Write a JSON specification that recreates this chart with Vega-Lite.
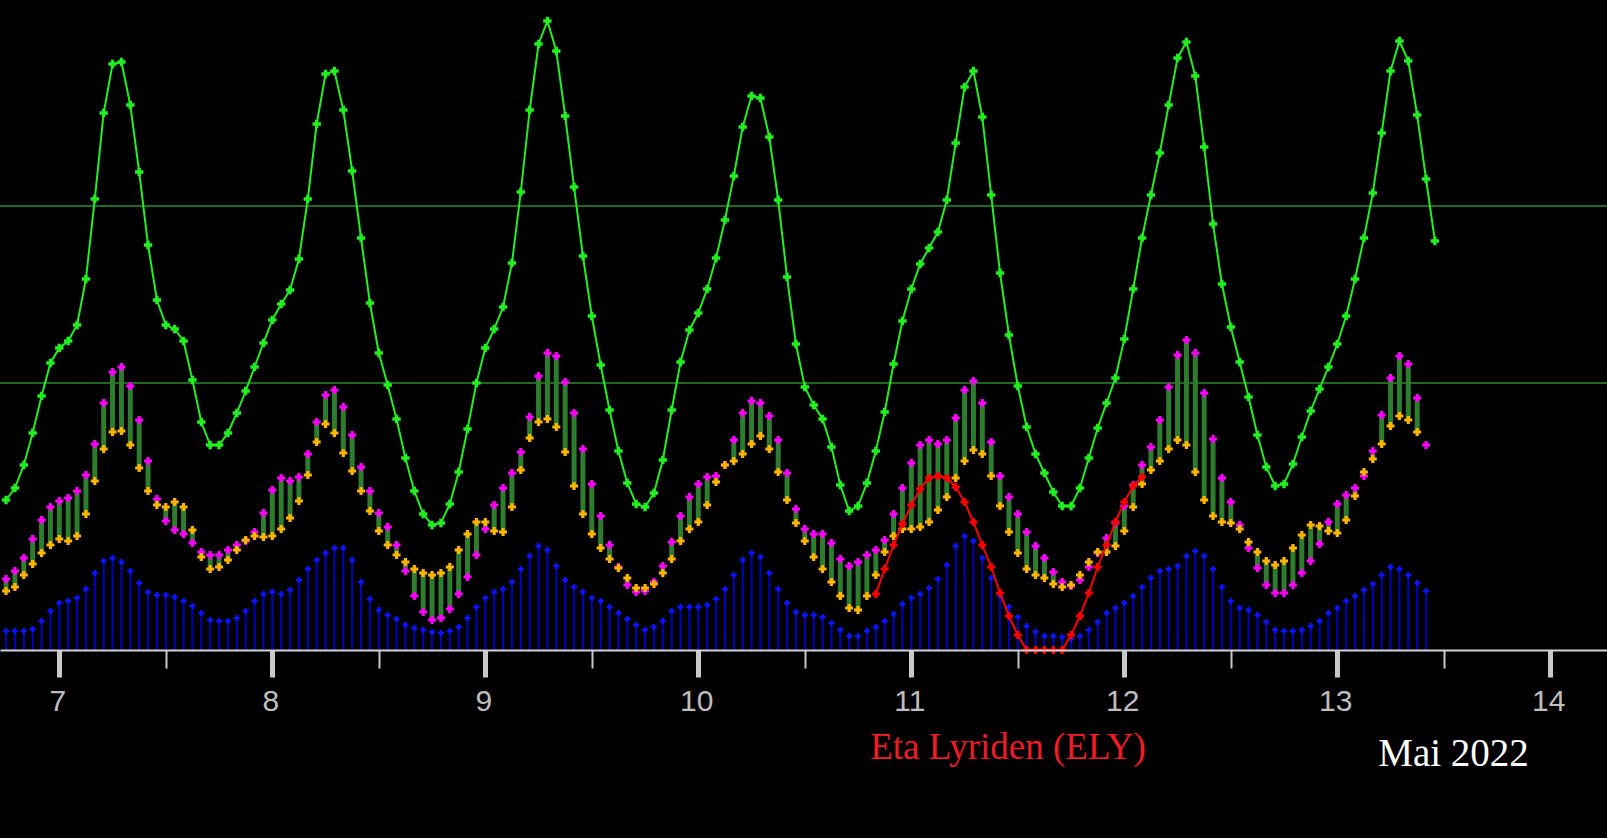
{
  "$schema": "https://vega.github.io/schema/vega-lite/v6.json",
  "width": 1607,
  "height": 650,
  "autosize": {"type": "none"},
  "padding": {"left": 0, "top": 0, "right": 0, "bottom": 188},
  "background": "#000000",
  "config": {"view": {"stroke": null}},
  "data": {
    "values": [
      {"h": -6, "g": 150, "m": 71, "o": 59, "b": 19},
      {"h": -5, "g": 162, "m": 79, "o": 63, "b": 19},
      {"h": -4, "g": 185, "m": 92, "o": 75, "b": 19},
      {"h": -3, "g": 217, "m": 111, "o": 86, "b": 21},
      {"h": -2, "g": 254, "m": 130, "o": 97, "b": 29},
      {"h": -1, "g": 287, "m": 143, "o": 105, "b": 39},
      {"h": 0, "g": 302, "m": 149, "o": 111, "b": 47},
      {"h": 1, "g": 309, "m": 152, "o": 109, "b": 49},
      {"h": 2, "g": 325, "m": 159, "o": 114, "b": 52},
      {"h": 3, "g": 371, "m": 175, "o": 136, "b": 61},
      {"h": 4, "g": 451, "m": 206, "o": 169, "b": 77},
      {"h": 5, "g": 537, "m": 247, "o": 201, "b": 89},
      {"h": 6, "g": 586, "m": 278, "o": 218, "b": 92},
      {"h": 7, "g": 588, "m": 283, "o": 219, "b": 88},
      {"h": 8, "g": 545, "m": 264, "o": 205, "b": 79},
      {"h": 9, "g": 478, "m": 230, "o": 182, "b": 67},
      {"h": 10, "g": 405, "m": 189, "o": 159, "b": 58},
      {"h": 11, "g": 350, "m": 151, "o": 145, "b": 55},
      {"h": 12, "g": 325, "m": 129, "o": 143, "b": 55},
      {"h": 13, "g": 321, "m": 120, "o": 148, "b": 53},
      {"h": 14, "g": 309, "m": 116, "o": 143, "b": 49},
      {"h": 15, "g": 270, "m": 107, "o": 120, "b": 44},
      {"h": 16, "g": 228, "m": 98, "o": 93, "b": 37},
      {"h": 17, "g": 205, "m": 95, "o": 81, "b": 30},
      {"h": 18, "g": 205, "m": 95, "o": 83, "b": 29},
      {"h": 19, "g": 217, "m": 100, "o": 90, "b": 29},
      {"h": 20, "g": 237, "m": 105, "o": 100, "b": 32},
      {"h": 21, "g": 259, "m": 109, "o": 110, "b": 39},
      {"h": 22, "g": 283, "m": 118, "o": 114, "b": 49},
      {"h": 23, "g": 307, "m": 137, "o": 113, "b": 56},
      {"h": 24, "g": 330, "m": 160, "o": 114, "b": 58},
      {"h": 25, "g": 346, "m": 172, "o": 121, "b": 56},
      {"h": 26, "g": 360, "m": 169, "o": 132, "b": 60},
      {"h": 27, "g": 391, "m": 173, "o": 149, "b": 70},
      {"h": 28, "g": 451, "m": 196, "o": 175, "b": 81},
      {"h": 29, "g": 526, "m": 228, "o": 208, "b": 90},
      {"h": 30, "g": 576, "m": 255, "o": 226, "b": 97},
      {"h": 31, "g": 579, "m": 260, "o": 217, "b": 102},
      {"h": 32, "g": 540, "m": 243, "o": 197, "b": 102},
      {"h": 33, "g": 479, "m": 215, "o": 179, "b": 90},
      {"h": 34, "g": 412, "m": 183, "o": 159, "b": 68},
      {"h": 35, "g": 347, "m": 159, "o": 139, "b": 51},
      {"h": 36, "g": 297, "m": 137, "o": 119, "b": 40},
      {"h": 37, "g": 265, "m": 123, "o": 105, "b": 35},
      {"h": 38, "g": 231, "m": 105, "o": 95, "b": 31},
      {"h": 39, "g": 192, "m": 79, "o": 88, "b": 25},
      {"h": 40, "g": 159, "m": 54, "o": 81, "b": 22},
      {"h": 41, "g": 136, "m": 38, "o": 77, "b": 20},
      {"h": 42, "g": 125, "m": 30, "o": 75, "b": 18},
      {"h": 43, "g": 127, "m": 32, "o": 77, "b": 17},
      {"h": 44, "g": 146, "m": 41, "o": 83, "b": 19},
      {"h": 45, "g": 178, "m": 56, "o": 100, "b": 23},
      {"h": 46, "g": 221, "m": 73, "o": 116, "b": 32},
      {"h": 47, "g": 267, "m": 95, "o": 128, "b": 43},
      {"h": 48, "g": 302, "m": 121, "o": 128, "b": 52},
      {"h": 49, "g": 321, "m": 145, "o": 119, "b": 58},
      {"h": 50, "g": 343, "m": 162, "o": 118, "b": 61},
      {"h": 51, "g": 387, "m": 177, "o": 143, "b": 68},
      {"h": 52, "g": 458, "m": 198, "o": 180, "b": 81},
      {"h": 53, "g": 540, "m": 233, "o": 212, "b": 94},
      {"h": 54, "g": 606, "m": 274, "o": 228, "b": 104},
      {"h": 55, "g": 629, "m": 297, "o": 231, "b": 100},
      {"h": 56, "g": 599, "m": 294, "o": 223, "b": 84},
      {"h": 57, "g": 534, "m": 268, "o": 198, "b": 70},
      {"h": 58, "g": 463, "m": 237, "o": 164, "b": 63},
      {"h": 59, "g": 394, "m": 201, "o": 136, "b": 58},
      {"h": 60, "g": 334, "m": 166, "o": 116, "b": 52},
      {"h": 61, "g": 285, "m": 134, "o": 102, "b": 49},
      {"h": 62, "g": 240, "m": 105, "o": 91, "b": 43},
      {"h": 63, "g": 199, "m": 83, "o": 82, "b": 37},
      {"h": 64, "g": 167, "m": 65, "o": 72, "b": 31},
      {"h": 65, "g": 146, "m": 58, "o": 62, "b": 25},
      {"h": 66, "g": 143, "m": 59, "o": 62, "b": 20},
      {"h": 67, "g": 157, "m": 68, "o": 66, "b": 23},
      {"h": 68, "g": 190, "m": 84, "o": 77, "b": 29},
      {"h": 69, "g": 240, "m": 108, "o": 91, "b": 39},
      {"h": 70, "g": 288, "m": 134, "o": 109, "b": 43},
      {"h": 71, "g": 320, "m": 153, "o": 121, "b": 43},
      {"h": 72, "g": 337, "m": 166, "o": 128, "b": 43},
      {"h": 73, "g": 361, "m": 173, "o": 145, "b": 45},
      {"h": 74, "g": 392, "m": 174, "o": 168, "b": 51},
      {"h": 75, "g": 430, "m": 185, "o": 185, "b": 61},
      {"h": 76, "g": 474, "m": 210, "o": 189, "b": 75},
      {"h": 77, "g": 523, "m": 237, "o": 196, "b": 90},
      {"h": 78, "g": 554, "m": 249, "o": 206, "b": 97},
      {"h": 79, "g": 552, "m": 247, "o": 214, "b": 93},
      {"h": 80, "g": 513, "m": 234, "o": 201, "b": 77},
      {"h": 81, "g": 450, "m": 210, "o": 178, "b": 61},
      {"h": 82, "g": 373, "m": 177, "o": 150, "b": 47},
      {"h": 83, "g": 306, "m": 141, "o": 127, "b": 38},
      {"h": 84, "g": 263, "m": 121, "o": 109, "b": 35},
      {"h": 85, "g": 245, "m": 116, "o": 93, "b": 35},
      {"h": 86, "g": 231, "m": 116, "o": 81, "b": 33},
      {"h": 87, "g": 203, "m": 107, "o": 68, "b": 27},
      {"h": 88, "g": 165, "m": 91, "o": 54, "b": 20},
      {"h": 89, "g": 139, "m": 84, "o": 42, "b": 14},
      {"h": 90, "g": 144, "m": 88, "o": 40, "b": 14},
      {"h": 91, "g": 167, "m": 95, "o": 54, "b": 19},
      {"h": 92, "g": 199, "m": 100, "o": 75, "b": 23, "r": 56},
      {"h": 93, "g": 238, "m": 110, "o": 98, "b": 29, "r": 81},
      {"h": 94, "g": 286, "m": 136, "o": 114, "b": 36, "r": 105},
      {"h": 95, "g": 329, "m": 162, "o": 121, "b": 46, "r": 126},
      {"h": 96, "g": 361, "m": 187, "o": 121, "b": 52, "r": 145},
      {"h": 97, "g": 386, "m": 205, "o": 123, "b": 56, "r": 161},
      {"h": 98, "g": 402, "m": 210, "o": 128, "b": 62, "r": 172},
      {"h": 99, "g": 418, "m": 206, "o": 140, "b": 71, "r": 174},
      {"h": 100, "g": 450, "m": 210, "o": 153, "b": 85, "r": 172},
      {"h": 101, "g": 507, "m": 232, "o": 172, "b": 104, "r": 163},
      {"h": 102, "g": 563, "m": 260, "o": 189, "b": 114, "r": 148},
      {"h": 103, "g": 579, "m": 269, "o": 200, "b": 109, "r": 128},
      {"h": 104, "g": 533, "m": 247, "o": 196, "b": 92, "r": 105},
      {"h": 105, "g": 455, "m": 208, "o": 174, "b": 72, "r": 83},
      {"h": 106, "g": 377, "m": 174, "o": 144, "b": 54, "r": 57},
      {"h": 107, "g": 315, "m": 153, "o": 118, "b": 43, "r": 34},
      {"h": 108, "g": 264, "m": 136, "o": 97, "b": 33, "r": 15},
      {"h": 109, "g": 223, "m": 118, "o": 81, "b": 24, "r": 0},
      {"h": 110, "g": 196, "m": 104, "o": 75, "b": 18, "r": 0},
      {"h": 111, "g": 177, "m": 92, "o": 72, "b": 14, "r": 0},
      {"h": 112, "g": 158, "m": 78, "o": 66, "b": 14, "r": 0},
      {"h": 113, "g": 144, "m": 68, "o": 63, "b": 13, "r": 0},
      {"h": 114, "g": 144, "m": 64, "o": 65, "b": 11, "r": 15},
      {"h": 115, "g": 162, "m": 70, "o": 75, "b": 14, "r": 34},
      {"h": 116, "g": 192, "m": 83, "o": 88, "b": 20, "r": 57},
      {"h": 117, "g": 222, "m": 97, "o": 98, "b": 28, "r": 83},
      {"h": 118, "g": 247, "m": 112, "o": 98, "b": 37, "r": 105},
      {"h": 119, "g": 272, "m": 127, "o": 104, "b": 42, "r": 128},
      {"h": 120, "g": 311, "m": 144, "o": 119, "b": 47, "r": 148},
      {"h": 121, "g": 361, "m": 165, "o": 143, "b": 54, "r": 164},
      {"h": 122, "g": 412, "m": 185, "o": 166, "b": 63, "r": 173},
      {"h": 123, "g": 455, "m": 203, "o": 180, "b": 72},
      {"h": 124, "g": 497, "m": 230, "o": 189, "b": 79},
      {"h": 125, "g": 545, "m": 263, "o": 201, "b": 81},
      {"h": 126, "g": 592, "m": 295, "o": 210, "b": 84},
      {"h": 127, "g": 608, "m": 310, "o": 205, "b": 94},
      {"h": 128, "g": 574, "m": 297, "o": 178, "b": 99},
      {"h": 129, "g": 503, "m": 257, "o": 150, "b": 94},
      {"h": 130, "g": 426, "m": 211, "o": 134, "b": 81},
      {"h": 131, "g": 366, "m": 172, "o": 128, "b": 63},
      {"h": 132, "g": 323, "m": 148, "o": 127, "b": 49},
      {"h": 133, "g": 288, "m": 125, "o": 121, "b": 42},
      {"h": 134, "g": 253, "m": 102, "o": 108, "b": 40},
      {"h": 135, "g": 215, "m": 82, "o": 98, "b": 35},
      {"h": 136, "g": 183, "m": 65, "o": 89, "b": 28},
      {"h": 137, "g": 164, "m": 57, "o": 85, "b": 20},
      {"h": 138, "g": 166, "m": 57, "o": 89, "b": 19},
      {"h": 139, "g": 186, "m": 65, "o": 102, "b": 19},
      {"h": 140, "g": 213, "m": 77, "o": 115, "b": 20},
      {"h": 141, "g": 239, "m": 89, "o": 125, "b": 24},
      {"h": 142, "g": 261, "m": 106, "o": 124, "b": 29},
      {"h": 143, "g": 283, "m": 128, "o": 119, "b": 37},
      {"h": 144, "g": 306, "m": 146, "o": 117, "b": 42},
      {"h": 145, "g": 334, "m": 155, "o": 130, "b": 49},
      {"h": 146, "g": 371, "m": 162, "o": 154, "b": 54},
      {"h": 147, "g": 412, "m": 174, "o": 178, "b": 60},
      {"h": 148, "g": 457, "m": 199, "o": 191, "b": 66},
      {"h": 149, "g": 517, "m": 235, "o": 206, "b": 75},
      {"h": 150, "g": 579, "m": 272, "o": 224, "b": 83},
      {"h": 151, "g": 609, "m": 294, "o": 234, "b": 81},
      {"h": 152, "g": 589, "m": 286, "o": 230, "b": 75},
      {"h": 153, "g": 535, "m": 252, "o": 218, "b": 67},
      {"h": 154, "g": 471, "m": 205, "b": 59},
      {"h": 155, "g": 409}
    ]
  },
  "layer": [
    {
      "data": {"values": [{"level": 444}, {"level": 267}]},
      "mark": {"type": "rule", "color": "#2a8c2a", "strokeWidth": 1.5},
      "encoding": {
        "y": {"field": "level", "type": "quantitative", "scale": {"domain": [0, 650], "nice": false, "zero": false}, "axis": null}
      }
    },
    {
      "transform": [{"filter": "isValid(datum.b)"}],
      "mark": {"type": "rule", "color": "#0000c0", "strokeWidth": 2},
      "encoding": {
        "x": {
          "field": "h", "type": "quantitative",
          "scale": {"domain": [-6.682, 174.39], "nice": false, "zero": false},
          "axis": {
            "values": [0, 12, 24, 36, 48, 60, 72, 84, 96, 108, 120, 132, 144, 156, 168],
            "labelExpr": "datum.value % 24 === 0 ? '' + (datum.value / 24 + 7) : ''",
            "grid": false,
            "domainColor": "#d2d2d2",
            "domainWidth": 2,
            "tickColor": "#c8c8c8",
            "tickSize": {"condition": {"test": "datum.value % 24 === 0", "value": 27}, "value": 18},
            "tickWidth": {"condition": {"test": "datum.value % 24 === 0", "value": 5}, "value": 2},
            "labelFont": "Liberation Sans",
            "labelFontSize": 30,
            "labelColor": "#bebebe",
            "labelPadding": 9,
            "labelOffset": -2,
            "labelFlush": false,
            "labelOverlap": false,
            "labelBound": false,
            "title": "Mai 2022",
            "titleFont": "Liberation Serif",
            "titleFontSize": 39,
            "titleFontWeight": "normal",
            "titleColor": "#ffffff",
            "titleX": 1453,
            "titleY": 115,
            "titleAlign": "center",
            "titleBaseline": "alphabetic",
            "titleAngle": 0,
            "zindex": 1
          }
        },
        "y": {"field": "b", "type": "quantitative", "scale": {"domain": [0, 650], "nice": false, "zero": false}, "axis": null},
        "y2": {"datum": 0}
      }
    },
    {
      "mark": {"type": "point", "shape": "cross", "filled": true, "size": 36, "color": "#0a14ff", "opacity": 1},
      "encoding": {
        "x": {"field": "h", "type": "quantitative", "scale": {"domain": [-6.682, 174.39], "nice": false, "zero": false}},
        "y": {"field": "b", "type": "quantitative", "scale": {"domain": [0, 650], "nice": false, "zero": false}, "axis": null}
      }
    },
    {
      "transform": [{"filter": "isValid(datum.m) && isValid(datum.o)"}],
      "mark": {"type": "rule", "color": "#2e7d2e", "strokeWidth": 5},
      "encoding": {
        "x": {"field": "h", "type": "quantitative", "scale": {"domain": [-6.682, 174.39], "nice": false, "zero": false}},
        "y": {"field": "m", "type": "quantitative", "scale": {"domain": [0, 650], "nice": false, "zero": false}, "axis": null},
        "y2": {"field": "o"}
      }
    },
    {
      "mark": {"type": "point", "shape": "cross", "filled": true, "size": 64, "color": "#ff00ff", "opacity": 1},
      "encoding": {
        "x": {"field": "h", "type": "quantitative", "scale": {"domain": [-6.682, 174.39], "nice": false, "zero": false}},
        "y": {"field": "m", "type": "quantitative", "scale": {"domain": [0, 650], "nice": false, "zero": false}, "axis": null}
      }
    },
    {
      "mark": {"type": "point", "shape": "cross", "filled": true, "size": 64, "color": "#ffb400", "opacity": 1},
      "encoding": {
        "x": {"field": "h", "type": "quantitative", "scale": {"domain": [-6.682, 174.39], "nice": false, "zero": false}},
        "y": {"field": "o", "type": "quantitative", "scale": {"domain": [0, 650], "nice": false, "zero": false}, "axis": null}
      }
    },
    {
      "mark": {
        "type": "line", "color": "#22ee22", "strokeWidth": 2,
        "point": {"shape": "cross", "filled": true, "size": 70, "color": "#22ee22", "opacity": 1}
      },
      "encoding": {
        "x": {"field": "h", "type": "quantitative", "scale": {"domain": [-6.682, 174.39], "nice": false, "zero": false}},
        "y": {"field": "g", "type": "quantitative", "scale": {"domain": [0, 650], "nice": false, "zero": false}, "axis": null}
      }
    },
    {
      "transform": [{"filter": "isValid(datum.r)"}],
      "mark": {
        "type": "line", "color": "#ff0000", "strokeWidth": 2,
        "point": {"shape": "cross", "filled": true, "size": 64, "color": "#ff0000", "opacity": 1}
      },
      "encoding": {
        "x": {"field": "h", "type": "quantitative", "scale": {"domain": [-6.682, 174.39], "nice": false, "zero": false}},
        "y": {"field": "r", "type": "quantitative", "scale": {"domain": [0, 650], "nice": false, "zero": false}, "axis": null}
      }
    },
    {
      "data": {"values": [{"label": "Eta Lyriden (ELY)"}]},
      "mark": {"type": "text", "font": "Liberation Serif", "fontSize": 37, "color": "#ee1c25", "align": "center", "baseline": "alphabetic"},
      "encoding": {
        "x": {"datum": 106.9, "type": "quantitative", "scale": {"domain": [-6.682, 174.39], "nice": false, "zero": false}},
        "y": {"datum": -109, "type": "quantitative", "scale": {"domain": [0, 650], "nice": false, "zero": false}, "axis": null},
        "text": {"field": "label", "type": "nominal"}
      }
    }
  ]
}
